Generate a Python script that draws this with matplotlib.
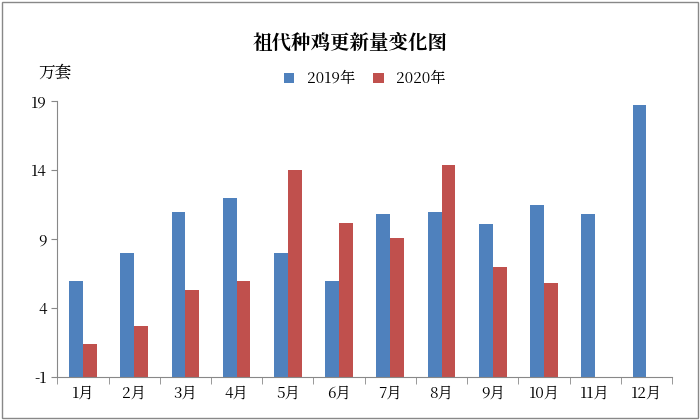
import matplotlib
matplotlib.use("Agg")
import matplotlib.pyplot as plt
from matplotlib import font_manager as fm
import numpy as np

cjk_name = None
for f in fm.findSystemFonts():
    if "CJK" in f or "cjk" in f.lower():
        try:
            fm.fontManager.addfont(f)
            n = fm.FontProperties(fname=f).get_name()
            if cjk_name is None or "SC" in n:
                cjk_name = n
        except Exception:
            pass
fams = [n for n in [cjk_name, "Noto Sans CJK SC", "Noto Sans CJK JP"] if n] + ["DejaVu Sans"]
plt.rcParams["font.family"] = "sans-serif"
plt.rcParams["font.sans-serif"] = fams

months = ["1月","2月","3月","4月","5月","6月","7月","8月","9月","10月","11月","12月"]
y2019 = [6.0, 8.0, 11.0, 12.0, 8.0, 6.0, 10.8, 11.0, 10.1, 11.5, 10.8, 18.7]
y2020 = [1.4, 2.7, 5.3, 6.0, 14.0, 10.2, 9.1, 14.4, 7.0, 5.8]
yticks = [-1, 4, 9, 14, 19]

fig = plt.figure(figsize=(7, 4.2), dpi=100)
ax = fig.add_axes([0.082, 0.102, 0.878, 0.657])
x = np.arange(len(months))
w = 0.27
base = -1
ax.bar(x - w/2, np.array(y2019) - base, w, bottom=base, color="#4F81BD", label="2019年")
ax.bar(x[:len(y2020)] + w/2, np.array(y2020) - base, w, bottom=base, color="#C0504D", label="2020年")
ax.set_ylim(-1, 19)
ax.set_xlim(-0.5, len(months) - 0.5)
ax.set_yticks(yticks)
ax.set_yticklabels([str(t) for t in yticks], fontsize=11)
ax.set_xticks(x)
ax.set_xticklabels(months, fontsize=11)
ax.set_xticks(np.arange(-0.5, len(months), 1), minor=True)
ax.tick_params(axis="x", which="major", length=0, pad=6)
ax.tick_params(axis="x", which="minor", length=5, color="#888888")
ax.tick_params(axis="y", length=4, color="#888888")
for s in ["top", "right"]:
    ax.spines[s].set_visible(False)
for s in ["left", "bottom"]:
    ax.spines[s].set_color("#888888")
fig.text(0.5, 0.885, "祖代种鸡更新量变化图", ha="center", fontsize=14, fontweight="bold")
fig.text(0.055, 0.815, "万套", fontsize=12)
ax.legend(loc="upper center", bbox_to_anchor=(0.5, 1.16), ncol=2, frameon=False, fontsize=11,
          handlelength=0.7, handleheight=0.7, columnspacing=1.2)
fig.patches.append(matplotlib.patches.Rectangle((0.003, 0.004), 0.994, 0.992, transform=fig.transFigure,
                                                fill=False, edgecolor="#888888", lw=1))
fig.savefig("out.png")
